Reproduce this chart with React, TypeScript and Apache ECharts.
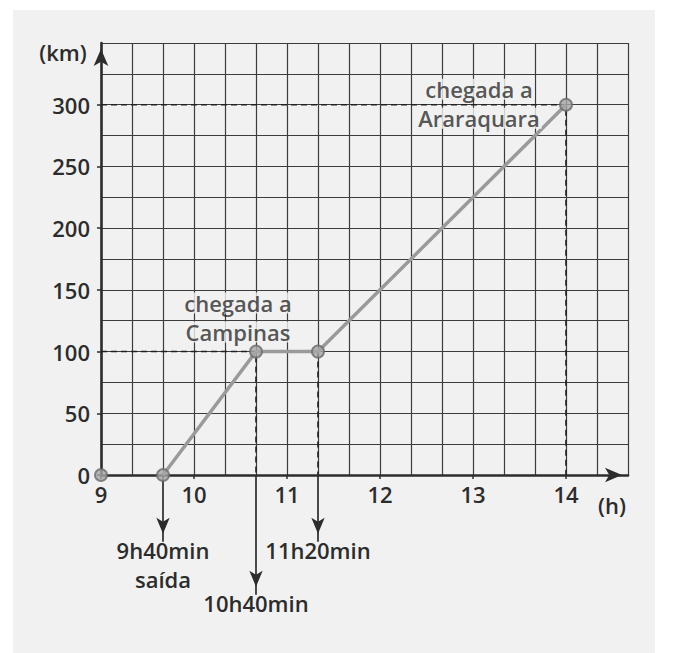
import React, { useEffect, useRef } from 'react';
import * as echarts from 'echarts';

// Trip data: time of day (hours + minutes) and distance travelled (km)
const pointHours = [9, 9, 10, 11, 14];
const pointMinutes = [0, 40, 40, 20, 0];
const distanceKm = [0, 0, 100, 100, 300];

// Axis tick labels
const xTickLabels = [9, 10, 11, 12, 13, 14];
const yTickLabels = [0, 50, 100, 150, 200, 250, 300];

// Arrow annotations below the time axis
const arrowPointIdx = [1, 2, 3];
const arrowLabels = [['9h40min', 'saída'], ['10h40min'], ['11h20min']];
const arrowDepthKm = [-54, -97, -54];

// Arrival annotations
const annotationIdx = [2, 4];
const annotationLines = [
  ['chegada a', 'Campinas'],
  ['chegada a', 'Araraquara'],
];

const X_MIN = 9;
const X_MAX = 14 + 40 / 60;
const Y_MIN = 0;
const Y_MAX = 350;

const PAPER = '#f1f1f1';
const INK = '#2c2c2c';
const GRIDC = '#3c3c3c';
const FONT = '"Open Sans", "DejaVu Sans", sans-serif';
const FS = 22;
const FW = 600;

export default function App() {
  const ref = useRef<HTMLDivElement>(null);

  useEffect(() => {
    document.body.style.margin = '0';
    if (!ref.current) return;
    const chart = echarts.init(ref.current, undefined, { renderer: 'svg' });

    const times = pointHours.map((h, i) => h + pointMinutes[i] / 60);
    const pts = times.map((t, i) => [t, distanceKm[i]]);

    const dashStyle = { color: '#222', width: 1.6, type: [6, 4] as any };

    const guideSeries: any[] = [];
    const pc = pts[2];
    guideSeries.push([[X_MIN, pc[1]], [pc[0], pc[1]], [pc[0], 0]]);
    const pd = pts[3];
    guideSeries.push([[pd[0], pd[1]], [pd[0], 0]]);
    const pa = pts[4];
    guideSeries.push([[X_MIN, pa[1]], [pa[0], pa[1]], [pa[0], 0]]);

    const series: any[] = [];
    guideSeries.forEach((d) => {
      series.push({
        type: 'line',
        data: d,
        symbol: 'none',
        clip: false,
        lineStyle: dashStyle,
        z: 2,
        silent: true,
      });
    });

    arrowPointIdx.forEach((idx, k) => {
      const x = pts[idx][0];
      series.push({
        type: 'line',
        clip: false,
        symbol: 'none',
        showSymbol: true,
        lineStyle: { color: INK, width: 1.7 },
        itemStyle: { color: INK },
        z: 2,
        data: [
          { value: [x, 0], symbol: 'none' },
          {
            value: [x, arrowDepthKm[k]],
            symbol: 'arrow',
            symbolSize: [10, 16],
            symbolRotate: 180,
            symbolOffset: [0, -8],
            label: {
              show: true,
              position: 'bottom',
              distance: 2,
              align: 'center',
              formatter: arrowLabels[k].map((s) => `{t|${s}}`).join('\n'),
              rich: {
                t: {
                  fontFamily: FONT,
                  fontSize: FS,
                  fontWeight: FW,
                  color: INK,
                  height: 20,
                  lineHeight: 29,
                  align: 'center',
                },
              },
            },
          },
        ],
      });
    });

    series.push({
      type: 'line',
      data: pts.slice(1),
      symbol: 'none',
      clip: false,
      lineStyle: { color: '#9a9a9a', width: 3.5 },
      z: 3,
    });

    const labelOffsets = [[-18, -34], [-87, -1]];
    series.push({
      type: 'scatter',
      clip: false,
      symbol: 'circle',
      symbolSize: 12,
      itemStyle: { color: '#a8a8a8', borderColor: '#6c6c6c', borderWidth: 2 },
      z: 4,
      data: pts.map((p, i) => {
        const a = annotationIdx.indexOf(i);
        if (a < 0) return { value: p };
        return {
          value: p,
          label: {
            show: true,
            position: 'inside',
            offset: labelOffsets[a],
            align: 'center',
            verticalAlign: 'middle',
            formatter: annotationLines[a].map((s) => `{t|${s}}`).join('\n'),
            rich: {
              t: {
                fontFamily: FONT,
                fontSize: FS,
                fontWeight: FW,
                color: INK,
                height: 21,
                lineHeight: 29,
                backgroundColor: PAPER,
                padding: [0, 2],
                align: 'center',
              },
            },
          },
        };
      }),
    });

    const axisLineStyle = {
      show: true,
      onZero: false,
      symbol: ['none', 'arrow'],
      symbolSize: [11, 17],
      symbolOffset: [0, -6],
      lineStyle: { color: INK, width: 2.6 },
    };
    const labelStyle = {
      fontSize: FS,
      fontWeight: FW,
      color: INK,
      fontFamily: FONT,
    };

    chart.setOption({
      animation: false,
      backgroundColor: '#ffffff',
      textStyle: { fontFamily: FONT },
      grid: { left: 101, right: 45, top: 43, bottom: 178 },
      xAxis: [
        {
          type: 'value',
          min: X_MIN,
          max: X_MAX,
          interval: 1 / 3,
          axisLine: { show: false },
          axisTick: { show: false },
          axisLabel: { show: false },
          splitLine: { show: true, lineStyle: { color: GRIDC, width: 1.2 } },
        },
        {
          type: 'value',
          min: X_MIN,
          max: X_MAX,
          position: 'bottom',
          axisLine: axisLineStyle,
          axisTick: {
            show: true,
            length: 4,
            customValues: xTickLabels,
            lineStyle: { color: INK, width: 1.5 },
          },
          axisLabel: {
            ...labelStyle,
            customValues: xTickLabels,
            margin: 8,
            formatter: (v: number) => String(Math.round(v)),
          },
          splitLine: { show: false },
        },
      ],
      yAxis: [
        {
          type: 'value',
          min: Y_MIN,
          max: Y_MAX,
          interval: 25,
          axisLine: { show: false },
          axisTick: { show: false },
          axisLabel: { show: false },
          splitLine: { show: true, lineStyle: { color: GRIDC, width: 1.2 } },
        },
        {
          type: 'value',
          min: Y_MIN,
          max: Y_MAX,
          position: 'left',
          axisLine: axisLineStyle,
          axisTick: {
            show: true,
            length: 4,
            customValues: yTickLabels,
            lineStyle: { color: INK, width: 1.5 },
          },
          axisLabel: {
            ...labelStyle,
            customValues: yTickLabels,
            margin: 11,
          },
          splitLine: { show: false },
        },
      ],
      graphic: [
        {
          type: 'rect',
          z: -10,
          silent: true,
          shape: { x: 13, y: 10, width: 642, height: 643 },
          style: { fill: PAPER },
        },
        {
          type: 'text',
          x: 63,
          y: 52,
          z: 10,
          style: {
            text: '(km)',
            fontFamily: FONT,
            fontSize: FS,
            fontWeight: FW,
            fill: INK,
            align: 'center',
            verticalAlign: 'middle',
          },
        },
        {
          type: 'text',
          x: 612,
          y: 505,
          z: 10,
          style: {
            text: '(h)',
            fontFamily: FONT,
            fontSize: FS,
            fontWeight: FW,
            fill: INK,
            align: 'center',
            verticalAlign: 'middle',
          },
        },
      ],
      series,
    });

    return () => chart.dispose();
  }, []);

  return <div ref={ref} style={{ width: 673, height: 653 }} />;
}
